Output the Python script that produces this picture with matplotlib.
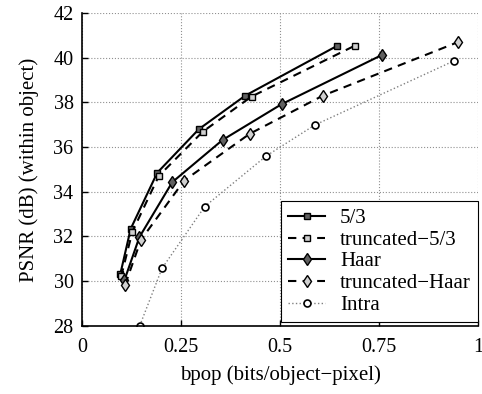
import matplotlib
matplotlib.use("Agg")
import matplotlib.pyplot as plt

plt.rcParams['font.family'] = ['Liberation Serif', 'DejaVu Serif']

labels = ["5/3", "truncated\u22125/3", "Haar", "truncated\u2212Haar", "Intra"]

x_53 = [0.097, 0.123, 0.190, 0.295, 0.412, 0.643]
y_53 = [30.33, 32.34, 34.85, 36.80, 38.30, 40.52]

x_t53 = [0.099, 0.127, 0.194, 0.305, 0.428, 0.689]
y_t53 = [30.21, 32.20, 34.71, 36.69, 38.26, 40.54]

x_haar = [0.107, 0.145, 0.228, 0.355, 0.504, 0.757]
y_haar = [30.03, 31.97, 34.43, 36.32, 37.92, 40.12]

x_thaar = [0.109, 0.149, 0.258, 0.423, 0.608, 0.948]
y_thaar = [29.84, 31.85, 34.50, 36.59, 38.30, 40.69]

x_intra = [0.146, 0.202, 0.310, 0.465, 0.588, 0.938]
y_intra = [28.01, 30.57, 33.34, 35.60, 36.99, 39.85]

xticks = [0, 0.25, 0.5, 0.75, 1]
xticklabels = ["0", "0.25", "0.5", "0.75", "1"]
yticks = [28, 30, 32, 34, 36, 38, 40, 42]

fig = plt.figure(figsize=(4.82, 3.94), dpi=100)
ax = fig.add_axes([0.170, 0.173, 0.822, 0.794])

ax.plot(x_53, y_53, '-', color='black', lw=1.5, marker='s', ms=5,
        mfc='#606060', mec='black', mew=1.0, label=labels[0])
ax.plot(x_t53, y_t53, '--', color='black', lw=1.5, marker='s', ms=5,
        mfc='#d0d0d0', mec='black', mew=1.0, dashes=(4, 3), label=labels[1])
ax.plot(x_haar, y_haar, '-', color='black', lw=1.5, marker='d', ms=6,
        mfc='#606060', mec='black', mew=1.0, label=labels[2])
ax.plot(x_thaar, y_thaar, '--', color='black', lw=1.5, marker='d', ms=6,
        mfc='#d0d0d0', mec='black', mew=1.0, dashes=(4, 3), label=labels[3])
ax.plot(x_intra, y_intra, ':', color='#808080', lw=1.0, marker='o', ms=5,
        mfc='white', mec='black', mew=1.2, label=labels[4])

ax.set_xlim(0, 1)
ax.set_ylim(28, 42)
ax.set_xticks(xticks)
ax.set_xticklabels(xticklabels)
ax.set_yticks(yticks)
ax.grid(True, linestyle=':', color='#909090', lw=0.8)
ax.spines['top'].set_visible(False)
ax.spines['right'].set_visible(False)
ax.spines['left'].set_linewidth(1.2)
ax.spines['bottom'].set_linewidth(1.2)
ax.tick_params(direction='in', length=4, labelsize=14.5, width=1)
ax.tick_params(axis='x', pad=9)
ax.tick_params(axis='y', pad=6)

ax.set_xlabel("bpop (bits/object\u2212pixel)", fontsize=15, labelpad=6)
ax.set_ylabel("PSNR (dB) (within object)", fontsize=15, labelpad=10)

leg = ax.legend(loc='lower right', bbox_to_anchor=(1.0, 0.012), fontsize=15,
                frameon=True, fancybox=False, edgecolor='black',
                borderaxespad=0.0, handlelength=1.8, labelspacing=0.1,
                borderpad=0.35, handletextpad=0.7, framealpha=1.0)
leg.get_frame().set_linewidth(0.8)

fig.savefig("out.png", dpi=100)
